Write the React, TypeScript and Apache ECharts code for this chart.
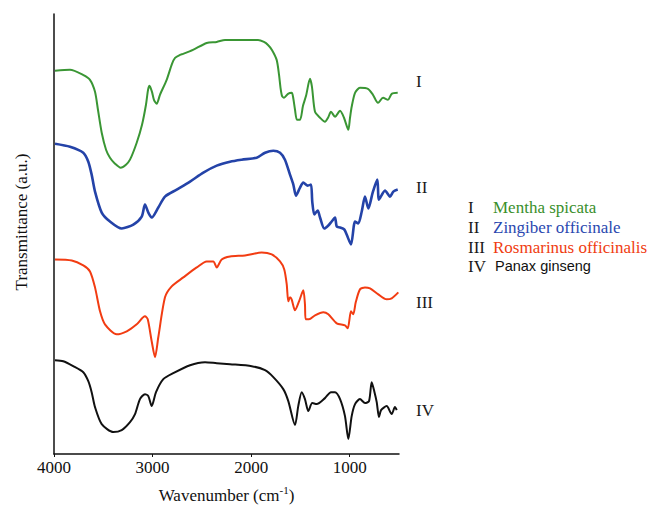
import React, { useEffect, useRef } from "react";
import * as echarts from "echarts";

// Wavenumber (cm-1) and transmittance (a.u., offset curves)
const menthaWn = [3990,3838,3706,3635,3584,3554,3516,3472,3432,3381,3323,3270,3229,3161,3107,3067,3046,3031,3006,2986,2958,2925,2857,2803,2772,2722,2691,2590,2451,2349,2265,2113,1930,1870,1829,1789,1741,1717,1702,1687,1666,1626,1588,1575,1555,1535,1504,1474,1443,1403,1383,1352,1301,1251,1220,1190,1149,1098,1058,1014,997,980,946,896,815,764,713,662,612,574,513];
const menthaT = [384,385,380,375,363,345,322,305,297,291,287,290,295,312,330,350,365,369,363,355,351,360,375,391,397,400,401,405,412,413,415,415,415,413,410,405,395,380,367,359,357,361,362,358,345,335,335,349,359,376,368,343,337,333,337,343,338,344,337,325,337,348,362,367,366,360,352,357,355,361,362];

const zingWn = [3990,3838,3703,3652,3618,3584,3516,3432,3313,3195,3110,3077,3043,3009,2942,2874,2755,2620,2485,2349,2214,2096,1944,1859,1775,1707,1657,1606,1572,1545,1504,1471,1426,1393,1380,1359,1325,1301,1258,1217,1183,1149,1132,1098,1055,1031,987,946,913,878,845,811,767,720,703,642,591,558,513];
const zingT = [311,308,302,293,280,263,242,233,226,230,238,250,242,237,247,258,265,273,282,289,293,295,297,302,304,302,295,280,270,259,267,272,269,270,253,240,244,237,226,229,233,237,228,227,225,220,210,233,231,243,258,246,262,275,255,264,258,263,265];

const rosWn = [3990,3820,3703,3635,3584,3533,3483,3364,3262,3161,3077,3049,3009,2975,2942,2874,2806,2688,2552,2451,2384,2349,2299,2214,2062,1893,1791,1707,1664,1639,1623,1606,1589,1555,1514,1471,1454,1447,1413,1352,1268,1217,1132,1048,1020,987,964,939,896,845,794,710,625,574,507];
const rosT = [195,194,189,183,167,143,130,120,123,130,138,135,113,97,117,157,168,177,187,193,193,187,195,198,199,202,200,193,185,170,153,157,155,144,153,164,150,135,135,139,142,140,131,129,126,143,140,152,165,167,166,160,155,156,162];

const ginWn = [3990,3906,3804,3703,3652,3618,3584,3516,3398,3313,3229,3178,3128,3077,3043,3009,2965,2891,2790,2620,2468,2349,2214,1994,1859,1775,1674,1623,1555,1522,1487,1454,1420,1380,1335,1251,1190,1149,1098,1048,1014,980,946,896,845,804,777,751,726,703,682,625,574,541,523];
const ginT = [94,93,88,82,73,62,47,30,22,24,32,40,55,60,58,48,62,75,81,89,92,91,90,88,84,77,65,53,29,48,62,55,43,51,50,56,62,62,55,38,15,38,50,55,51,53,72,63,52,37,44,48,40,47,44];

const xTicks = [4000, 3000, 2000, 1000];
const numerals = ["I", "II", "III", "IV"];
const species = ["Mentha spicata", "Zingiber officinale", "Rosmarinus officinalis", "Panax ginseng"];
const lineColors = ["#3a9634", "#2443a8", "#f23c12", "#111111"];
const textColors = ["#3a8f2c", "#2a48b0", "#f03c10", "#111111"];

const FONT = "Liberation Serif";
const SANS = "Liberation Sans";

function pairs(xs: number[], ys: number[]) {
  return xs.map((x, i) => [x, ys[i]]);
}

export default function App() {
  const ref = useRef<HTMLDivElement>(null);
  useEffect(() => {
    if (!ref.current) return;
    const chart = echarts.init(ref.current, null, { renderer: "svg" });
    const seriesData = [
      pairs(menthaWn, menthaT),
      pairs(zingWn, zingT),
      pairs(rosWn, rosT),
      pairs(ginWn, ginT),
    ];
    const curveLabelY = [81, 187, 302, 410];
    const legendY = [207, 227, 247, 266];
    const txt = (x: number, y: number, text: string, fill: string, family = FONT, size = 17) => ({
      type: "text",
      x,
      y,
      style: {
        text,
        fill,
        fontSize: size,
        fontFamily: family,
        textAlign: "left",
        textVerticalAlign: "middle",
      },
    });
    const graphics: any[] = [];
    numerals.forEach((n, i) => {
      graphics.push(txt(416, curveLabelY[i], n, "#1a1a1a"));
      graphics.push(txt(468, legendY[i], n, "#1a1a1a"));
      if (i === 3) {
        graphics.push(txt(495, legendY[i], species[i], textColors[i], SANS, 14.5));
      } else {
        graphics.push(txt(493, legendY[i], species[i], textColors[i]));
      }
    });
    chart.setOption({
      animation: false,
      backgroundColor: "#ffffff",
      grid: { left: 54, top: 14, right: 252, bottom: 56, containLabel: false },
      xAxis: {
        type: "value",
        inverse: true,
        min: 500,
        max: 4000,
        name: "Wavenumber (cm{sup|-1})",
        nameLocation: "middle",
        nameGap: 30,
        nameTextStyle: {
          fontFamily: FONT,
          fontSize: 17,
          color: "#111",
          lineHeight: 22,
          rich: {
            sup: { fontFamily: FONT, fontSize: 11, verticalAlign: "top", lineHeight: 22, padding: [0, 0, 8, 0], color: "#111" },
          },
        },
        axisLine: { show: true, onZero: false, lineStyle: { color: "#111", width: 1.5 } },
        axisTick: { show: true, length: 3, customValues: xTicks, lineStyle: { color: "#111" } },
        axisLabel: {
          customValues: xTicks,
          formatter: (v: number) => String(v),
          fontFamily: FONT,
          fontSize: 17,
          color: "#111",
          margin: 5,
        },
        splitLine: { show: false },
      },
      yAxis: {
        type: "value",
        min: 0,
        max: 441,
        name: "Transmittance (a.u.)",
        nameLocation: "middle",
        nameGap: 24,
        nameTextStyle: { fontFamily: FONT, fontSize: 17, color: "#111", padding: [0, 0, 0, 24] },
        axisLine: { show: true, lineStyle: { color: "#111", width: 1.5 } },
        axisTick: { show: false },
        axisLabel: { show: false },
        splitLine: { show: false },
      },
      series: seriesData.map((d, i) => ({
        type: "line",
        name: species[i],
        data: d,
        showSymbol: false,
        smooth: 0.25,
        lineStyle: { color: lineColors[i], width: i === 1 ? 2.6 : 2, join: "round" },
        z: 3,
      })),
      graphic: graphics,
    });
    return () => chart.dispose();
  }, []);
  return (
    <div
      ref={ref}
      style={{ position: "fixed", left: 0, top: 0, width: 651, height: 511, background: "#fff" }}
    />
  );
}
